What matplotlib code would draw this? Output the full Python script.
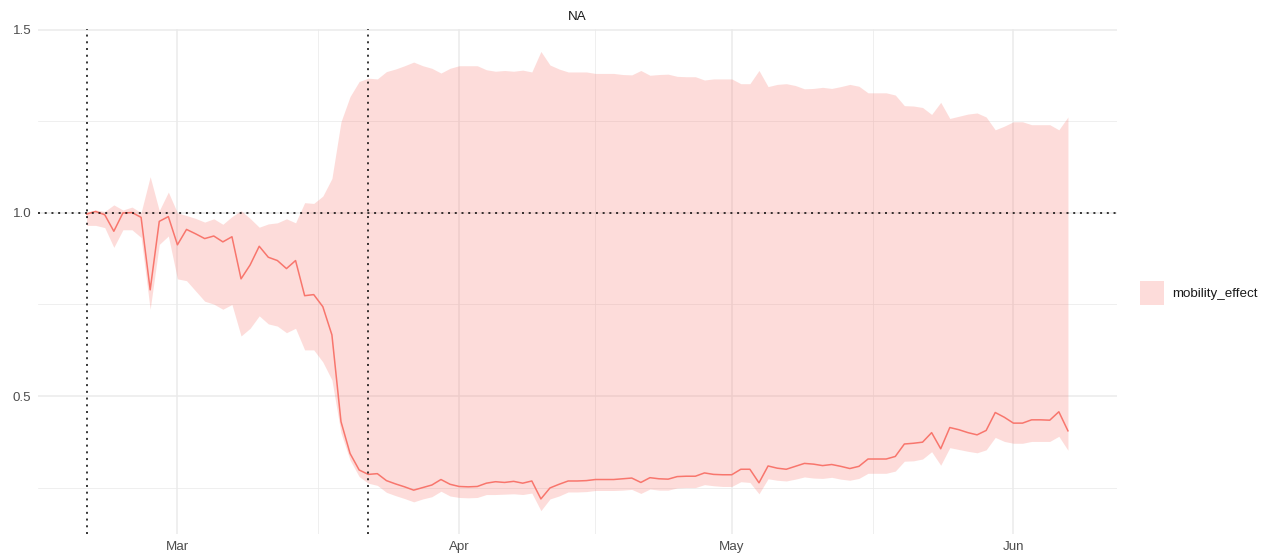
import matplotlib
matplotlib.use("Agg")
import matplotlib.pyplot as plt
import matplotlib.dates as mdates
from matplotlib.patches import Patch
import pandas as pd

plt.rcParams['font.family'] = ['Liberation Sans', 'DejaVu Sans']

start_date = "2020-02-20"
n_days = 109
dates = pd.date_range(start_date, periods=n_days, freq="D")

mobility_effect = [
    0.997, 1.004, 0.995, 0.950, 1.000, 1.001, 0.988, 0.790, 0.977, 0.990,
    0.913, 0.955, 0.943, 0.930, 0.937, 0.921, 0.935, 0.820, 0.858, 0.909,
    0.879, 0.870, 0.848, 0.870, 0.774, 0.777, 0.744, 0.667, 0.430, 0.343,
    0.298, 0.286, 0.288, 0.269, 0.260, 0.252, 0.243, 0.250, 0.257, 0.272,
    0.259, 0.253, 0.252, 0.253, 0.262, 0.266, 0.264, 0.267, 0.262, 0.268,
    0.219, 0.249, 0.259, 0.268, 0.268, 0.269, 0.272, 0.272, 0.272, 0.274,
    0.276, 0.264, 0.277, 0.274, 0.273, 0.280, 0.281, 0.281, 0.290, 0.286,
    0.285, 0.285, 0.300, 0.300, 0.263, 0.309, 0.303, 0.300, 0.308, 0.316,
    0.314, 0.310, 0.313, 0.308, 0.302, 0.308, 0.328, 0.328, 0.328, 0.335,
    0.369, 0.371, 0.374, 0.400, 0.356, 0.414, 0.408, 0.400, 0.394, 0.406,
    0.455, 0.442, 0.426, 0.426, 0.435, 0.435, 0.434, 0.457, 0.405,
]

lower = [
    0.966, 0.966, 0.960, 0.906, 0.954, 0.954, 0.933, 0.737, 0.914, 0.937,
    0.820, 0.815, 0.787, 0.759, 0.751, 0.737, 0.750, 0.664, 0.685, 0.719,
    0.697, 0.691, 0.673, 0.685, 0.626, 0.626, 0.593, 0.544, 0.399, 0.325,
    0.280, 0.262, 0.256, 0.237, 0.228, 0.220, 0.211, 0.219, 0.225, 0.240,
    0.227, 0.223, 0.222, 0.223, 0.231, 0.231, 0.232, 0.233, 0.231, 0.235,
    0.187, 0.219, 0.227, 0.238, 0.238, 0.239, 0.242, 0.242, 0.242, 0.243,
    0.245, 0.234, 0.246, 0.243, 0.243, 0.249, 0.250, 0.250, 0.258, 0.255,
    0.253, 0.253, 0.266, 0.264, 0.233, 0.274, 0.270, 0.268, 0.273, 0.279,
    0.276, 0.275, 0.278, 0.273, 0.270, 0.275, 0.289, 0.289, 0.289, 0.295,
    0.322, 0.323, 0.328, 0.348, 0.311, 0.359, 0.354, 0.349, 0.345, 0.353,
    0.387, 0.376, 0.371, 0.371, 0.376, 0.376, 0.376, 0.390, 0.352,
]

upper = [
    1.003, 1.008, 1.004, 1.022, 1.008, 1.016, 1.001, 1.099, 1.006, 1.057,
    1.000, 0.993, 0.985, 0.975, 0.984, 0.969, 0.990, 1.006, 0.985, 0.961,
    0.970, 0.973, 0.984, 0.973, 1.028, 1.026, 1.046, 1.094, 1.249, 1.318,
    1.359, 1.368, 1.366, 1.386, 1.393, 1.402, 1.412, 1.402, 1.395, 1.382,
    1.395, 1.402, 1.402, 1.402, 1.391, 1.387, 1.389, 1.387, 1.390, 1.385,
    1.441, 1.404, 1.393, 1.385, 1.385, 1.385, 1.381, 1.381, 1.381, 1.378,
    1.377, 1.389, 1.376, 1.378, 1.379, 1.373, 1.372, 1.372, 1.363, 1.366,
    1.366, 1.366, 1.353, 1.353, 1.389, 1.345, 1.351, 1.353, 1.348, 1.339,
    1.340, 1.343, 1.340, 1.345, 1.351, 1.346, 1.328, 1.328, 1.328, 1.322,
    1.293, 1.292, 1.288, 1.269, 1.302, 1.258, 1.264, 1.270, 1.273, 1.262,
    1.227, 1.237, 1.249, 1.249, 1.241, 1.241, 1.241, 1.227, 1.262,
]

vlines = ["2020-02-20", "2020-03-22"]
hline = 1.0
y_major = [0.5, 1.0, 1.5]
y_minor = [0.25, 0.75, 1.25]
x_major = ["2020-03-01", "2020-04-01", "2020-05-01", "2020-06-01"]
x_minor = ["2020-03-16 12:00", "2020-04-16", "2020-05-16 12:00"]
x_labels = ["Mar", "Apr", "May", "Jun"]
panel_title = "NA"
legend_label = "mobility_effect"

col = "#F8766D"
fs = 9.6
W, H = 1272, 559
fig = plt.figure(figsize=(W / 100, H / 100), dpi=100)
ax = fig.add_axes([37.5 / W, 1 - 533.6 / H, (1117 - 37.5) / W, (533.6 - 28.5) / H])

x = mdates.date2num(dates)
xr = x[-1] - x[0]
ax.set_xlim(x[0] - 0.05 * xr, x[-1] + 0.05 * xr)
ymin, ymax = min(lower), max(upper)
yr = ymax - ymin
ax.set_ylim(ymin - 0.05 * yr, ymax + 0.05 * yr)

for v in y_major:
    ax.axhline(v, color="#EBEBEB", lw=1.1, zorder=0)
for v in y_minor:
    ax.axhline(v, color="#EBEBEB", lw=0.55, zorder=0)
for d in x_major:
    ax.axvline(mdates.date2num(pd.Timestamp(d)), color="#EBEBEB", lw=1.1, zorder=0)
for d in x_minor:
    ax.axvline(mdates.date2num(pd.Timestamp(d)), color="#EBEBEB", lw=0.55, zorder=0)

ax.fill_between(x, lower, upper, color=col, alpha=0.25, lw=0, zorder=1)
ax.plot(x, mobility_effect, color=col, lw=1.1, zorder=2)

dot = (0, (1.3, 3.1))
ax.axhline(hline, color="black", lw=1.1, linestyle=dot, zorder=3)
for d in vlines:
    ax.axvline(mdates.date2num(pd.Timestamp(d)), color="black", lw=1.1, linestyle=dot, zorder=3)

ax.set_yticks(y_major)
ax.set_yticklabels([f"{v:.1f}" for v in y_major])
ax.set_xticks([mdates.date2num(pd.Timestamp(d)) for d in x_major])
ax.set_xticklabels(x_labels)
ax.tick_params(axis="both", length=0, labelsize=fs, labelcolor="#4D4D4D")
ax.tick_params(axis="y", pad=4.5)
ax.tick_params(axis="x", pad=5)
for s in ax.spines.values():
    s.set_visible(False)

ax.set_title(panel_title, fontsize=fs, color="#1A1A1A", pad=6)

handle = Patch(facecolor=col, alpha=0.25, edgecolor="none")
fig.legend([handle], [legend_label], loc="center left",
           bbox_to_anchor=(1140 / W, 1 - 293 / H), frameon=False,
           fontsize=fs, handlelength=1.8, handleheight=2.28,
           handletextpad=0.6, borderpad=0, borderaxespad=0,
           labelcolor="#1A1A1A")

fig.savefig("out.png", dpi=100, facecolor="white")
